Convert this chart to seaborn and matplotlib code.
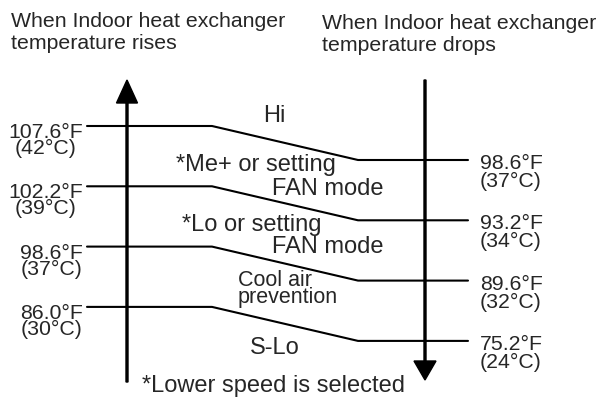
import pandas as pd
import matplotlib.pyplot as plt
import seaborn as sns

# Switching thresholds (rising side / dropping side)
rise_f = ['107.6°F', '102.2°F', '98.6°F', '86.0°F']
rise_c = ['(42°C)', '(39°C)', '(37°C)', '(30°C)']
drop_f = ['98.6°F', '93.2°F', '89.6°F', '75.2°F']
drop_c = ['(37°C)', '(34°C)', '(32°C)', '(24°C)']

sns.set_style('white')
plt.rcParams['font.family'] = ['Liberation Sans', 'DejaVu Sans']

fig = plt.figure(figsize=(5.98, 4.03), dpi=100)
ax = fig.add_axes([0, 0, 1, 1])

# layout (pixel space)
row0, row_gap, drop_shift = 126, 60.3, 34
x_pts = [87, 212, 358, 468]
left_x, right_x = 127, 425

rows = []
for i in range(len(rise_f)):
    yl = row0 + i * row_gap
    yr = yl + drop_shift
    for x, y in zip(x_pts, [yl, yl, yr, yr]):
        rows.append({'level': i, 'x': x, 'y': y})
seg = pd.DataFrame(rows)

sns.lineplot(data=seg, x='x', y='y', units='level', estimator=None, sort=False,
             color='black', linewidth=1.5, ax=ax)
ax.set_xlim(0, 598)
ax.set_ylim(403, 0)
ax.axis('off')

# vertical arrows
ax.arrow(left_x, 382, 0, -302, width=2, head_width=21, head_length=23,
         length_includes_head=True, color='black')
ax.arrow(right_x, 80, 0, 300, width=2, head_width=22, head_length=19,
         length_includes_head=True, color='black')

fs = 15.3
zfs = 17
# headers (y = baseline of the last line)
ax.text(11, 49, 'When Indoor heat exchanger\ntemperature rises', fontsize=fs,
        va='baseline', linespacing=1.2)
ax.text(322, 51, 'When Indoor heat exchanger\ntemperature drops', fontsize=fs,
        va='baseline', linespacing=1.2)

# threshold labels
for i in range(len(rise_f)):
    yl = row0 + i * row_gap
    yr = yl + drop_shift
    ax.text(83, yl + 28, rise_f[i] + '\n' + rise_c[i], fontsize=fs, ha='right',
            va='baseline', multialignment='center', linespacing=0.8)
    ax.text(480, yr + 27, drop_f[i] + '\n' + drop_c[i], fontsize=fs, ha='left',
            va='baseline', multialignment='left', linespacing=0.93)

# zone labels
ax.text(274, 122, 'Hi', fontsize=zfs, ha='center', va='baseline')
ax.text(176, 171, '*Me+ or setting', fontsize=zfs, va='baseline')
ax.text(383, 195, 'FAN mode', fontsize=zfs, ha='right', va='baseline')
ax.text(182, 231, '*Lo or setting', fontsize=zfs, va='baseline')
ax.text(383, 253, 'FAN mode', fontsize=zfs, ha='right', va='baseline')
ax.text(238, 303, 'Cool air\nprevention', fontsize=15.5, va='baseline',
        linespacing=0.73)
ax.text(275, 354, 'S-Lo', fontsize=zfs, ha='center', va='baseline')
ax.text(142, 392, '*Lower speed is selected', fontsize=zfs, va='baseline')

plt.savefig('out.png', dpi=100)
